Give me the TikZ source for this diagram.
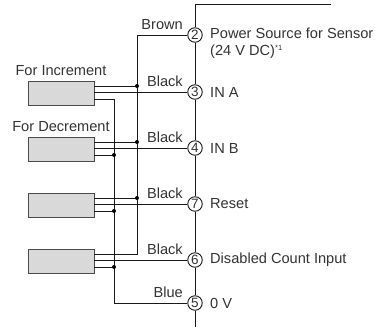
\documentclass[tikz,border=0pt]{standalone}
\usepackage{fontspec}
\setmainfont{Liberation Sans}
\begin{document}
\begin{tikzpicture}[x=1pt,y=-1pt,
  wire/.style={line width=0.9pt, black!90},
  term/.style={circle, draw=black!90, line width=0.9pt, fill=white, minimum size=14.5pt, inner sep=0pt, font=\fontsize{13.5}{14}\selectfont, text=black!80},
  sensor/.style={draw=black!70, fill=black!15, line width=0.9pt, minimum width=66pt, minimum height=24pt, inner sep=0pt},
  lbl/.style={font=\fontsize{14.6}{16}\selectfont, inner sep=0pt, text=black!80},
  jdot/.style={circle, fill=black, inner sep=0pt, minimum size=4pt}
]
\useasboundingbox (0,0) rectangle (375,327);
% terminals
\node[term] (t2) at (195,35) {2};
\node[term] (t3) at (195,92) {3};
\node[term] (t4) at (195,148) {4};
\node[term] (t7) at (195,204) {7};
\node[term] (t6) at (195,260) {6};
\node[term] (t5) at (195,303) {5};
% sensors
\node[sensor] (b1) at (61,93) {};
\node[sensor] (b2) at (61,149) {};
\node[sensor] (b3) at (61,205) {};
\node[sensor] (b4) at (61,261) {};
% wire endpoints on sensors
\coordinate (b1a) at (94,86); \coordinate (b1m) at (94,92); \coordinate (b1c) at (94,99);
\coordinate (b2a) at (94,142); \coordinate (b2m) at (94,148); \coordinate (b2c) at (94,155);
\coordinate (b3a) at (94,198); \coordinate (b3m) at (94,204); \coordinate (b3c) at (94,211);
\coordinate (b4a) at (94,254); \coordinate (b4m) at (94,260); \coordinate (b4c) at (94,267);
% corners and junctions
\coordinate (top) at (195,4); \coordinate (topr) at (331,4); \coordinate (bot) at (195,327);
\coordinate (brc) at (137,35); \coordinate (brb) at (137,254);
\coordinate (blt) at (114,99); \coordinate (blb) at (114,303);
\coordinate (j1) at (137,86); \coordinate (j2) at (137,142); \coordinate (j3) at (137,198);
\coordinate (k2) at (114,155); \coordinate (k3) at (114,211); \coordinate (k4) at (114,267);
% main bus
\draw[wire] (topr) -- (top) -- (t2.north);
\draw[wire] (t2.south) -- (t3.north);
\draw[wire] (t3.south) -- (t4.north);
\draw[wire] (t4.south) -- (t7.north);
\draw[wire] (t7.south) -- (t6.north);
\draw[wire] (t6.south) -- (t5.north);
\draw[wire] (t5.south) -- (bot);
% brown line
\draw[wire] (t2.west) -- (brc) -- (brb) -- (b4a);
\draw[wire] (b1a) -- (j1);
\draw[wire] (b2a) -- (j2);
\draw[wire] (b3a) -- (j3);
% blue line
\draw[wire] (b1c) -- (blt) -- (blb) -- (t5.west);
\draw[wire] (b2c) -- (k2);
\draw[wire] (b3c) -- (k3);
\draw[wire] (b4c) -- (k4);
% signal lines
\draw[wire] (b1m) -- (t3.west);
\draw[wire] (b2m) -- (t4.west);
\draw[wire] (b3m) -- (t7.west);
\draw[wire] (b4m) -- (t6.west);
% dots
\foreach \p in {j1,j2,j3,k2,k3,k4} \node[jdot] at (\p) {};
% wire labels
\node[lbl, anchor=base east] at (183,29) {Brown};
\node[lbl, anchor=base east] at (183,86) {Black};
\node[lbl, anchor=base east] at (183,142) {Black};
\node[lbl, anchor=base east] at (183,198) {Black};
\node[lbl, anchor=base east] at (183,254) {Black};
\node[lbl, anchor=base east] at (183,297) {Blue};
% terminal labels
\node[lbl, anchor=west] at (210,33) {Power Source for Sensor};
\node[lbl, anchor=west] at (210,52) {(24 V DC)\textsuperscript{\fontsize{7.5}{7.5}\selectfont *1}};
\node[lbl, anchor=west] at (210,92) {IN A};
\node[lbl, anchor=west] at (210,148) {IN B};
\node[lbl, anchor=west] at (210,204) {Reset};
\node[lbl, anchor=west] at (210,260) {Disabled Count Input};
\node[lbl, anchor=west] at (210,303) {0 V};
% sensor labels
\node[lbl, anchor=base] at (61,75) {For Increment};
\node[lbl, anchor=base] at (61,131) {For Decrement};
\end{tikzpicture}
\end{document}
